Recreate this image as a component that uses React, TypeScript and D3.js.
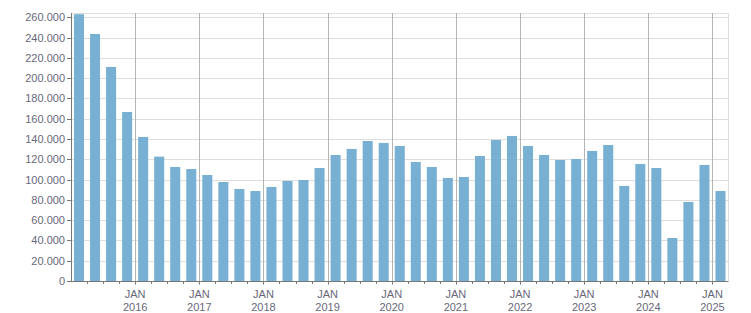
import React from "react";
import * as d3 from "d3";

const years = [2015, 2016, 2017, 2018, 2019, 2020, 2021, 2022, 2023, 2024, 2025];
const quarters = ["Q1", "Q2", "Q3", "Q4"];
const periods: string[] = [];
years.forEach((y) => quarters.forEach((q) => periods.push(`${y}-${q}`)));
const categories = periods.slice(0, 41);

const values = [
  263, 243.5, 211, 166.6, 142, 122.6, 112.4, 110.4, 104.5, 97.6, 90.7, 88.7,
  92.7, 98.6, 99.6, 111.4, 124.2, 130.2, 138, 136.1, 133.1, 117.3, 112.4, 101.6,
  102.5, 123.2, 139, 143, 133.1, 124.2, 119.3, 120.3, 128.2, 134.1, 93.7, 115.4,
  111.4, 42.4, 77.9, 114.4, 88.7,
].map((v) => v * 1000);

const yTicks = [0, 20000, 40000, 60000, 80000, 100000, 120000, 140000, 160000, 180000, 200000, 220000, 240000, 260000];
const labelYears = [2016, 2017, 2018, 2019, 2020, 2021, 2022, 2023, 2024, 2025];

const W = 751;
const H = 313;
const left = 71;
const right = 728.5;
const top = 13;
const bottom = 281;

const fmt = (v: number) => {
  if (v === 0) return "0";
  return d3.format(",")(v).replace(/,/g, ".");
};

export default function App() {
  const x = d3
    .scaleBand<string>()
    .domain(categories)
    .range([left, right])
    .paddingInner(0.375)
    .paddingOuter(0.1875);
  const step = x.step();
  const y = d3.scaleLinear().domain([0, 264200]).range([bottom, top]);
  const boundary = (i: number) => left + i * step;
  const textColor = "#68687a";
  const font = "'Liberation Sans', Arial, sans-serif";

  return (
    <svg
      width={W}
      height={H}
      style={{ position: "absolute", left: 0, top: 0, background: "#fff" }}
      fontFamily={font}
    >
      {/* horizontal grid */}
      {yTicks
        .filter((t) => t > 0)
        .map((t) => (
          <line key={t} x1={left} x2={right} y1={Math.round(y(t)) + 0.5} y2={Math.round(y(t)) + 0.5} stroke="#dedede" strokeWidth={1} />
        ))}
      {/* frame top/right */}
      <line x1={left} x2={right} y1={top + 0.5} y2={top + 0.5} stroke="#dedede" />
      <line x1={right} x2={right} y1={top} y2={bottom} stroke="#dedede" />
      {/* bars */}
      {categories.map((c, i) => (
        <rect
          key={c}
          x={x(c)}
          width={x.bandwidth()}
          y={y(values[i])}
          height={bottom - y(values[i])}
          fill="#78b0d3"
        />
      ))}
      {/* vertical year lines */}
      {labelYears.map((yr) => {
        const i = categories.indexOf(`${yr}-Q1`);
        const bx = Math.round(boundary(i)) + 0.5;
        return <line key={yr} x1={bx} x2={bx} y1={top} y2={bottom + 4} stroke="#b4b4b4" strokeWidth={1} />;
      })}
      {/* quarter ticks */}
      {categories.map((c, i) => {
        if (i === 0) return null;
        const bx = Math.round(boundary(i)) + 0.5;
        return <line key={c} x1={bx} x2={bx} y1={bottom} y2={bottom + 3} stroke="#777" />;
      })}
      {/* axes */}
      <line x1={left + 0.5} x2={left + 0.5} y1={top} y2={bottom + 0.5} stroke="#777" />
      <line x1={left} x2={right} y1={bottom + 0.5} y2={bottom + 0.5} stroke="#777" />
      {/* y ticks and labels */}
      {yTicks.map((t) => (
        <g key={t}>
          <line x1={left - 4} x2={left} y1={Math.round(y(t)) + 0.5} y2={Math.round(y(t)) + 0.5} stroke="#777" />
          <text x={left - 6} y={y(t)} dy="0.36em" textAnchor="end" fontSize={11} fill={textColor}>
            {fmt(t)}
          </text>
        </g>
      ))}
      {/* x labels */}
      {labelYears.map((yr) => {
        const i = categories.indexOf(`${yr}-Q1`);
        const bx = boundary(i);
        return (
          <g key={yr}>
            <text x={bx} y={298} textAnchor="middle" fontSize={11} fill={textColor}>
              JAN
            </text>
            <text x={bx} y={311} textAnchor="middle" fontSize={11} fill={textColor}>
              {yr}
            </text>
          </g>
        );
      })}
    </svg>
  );
}
